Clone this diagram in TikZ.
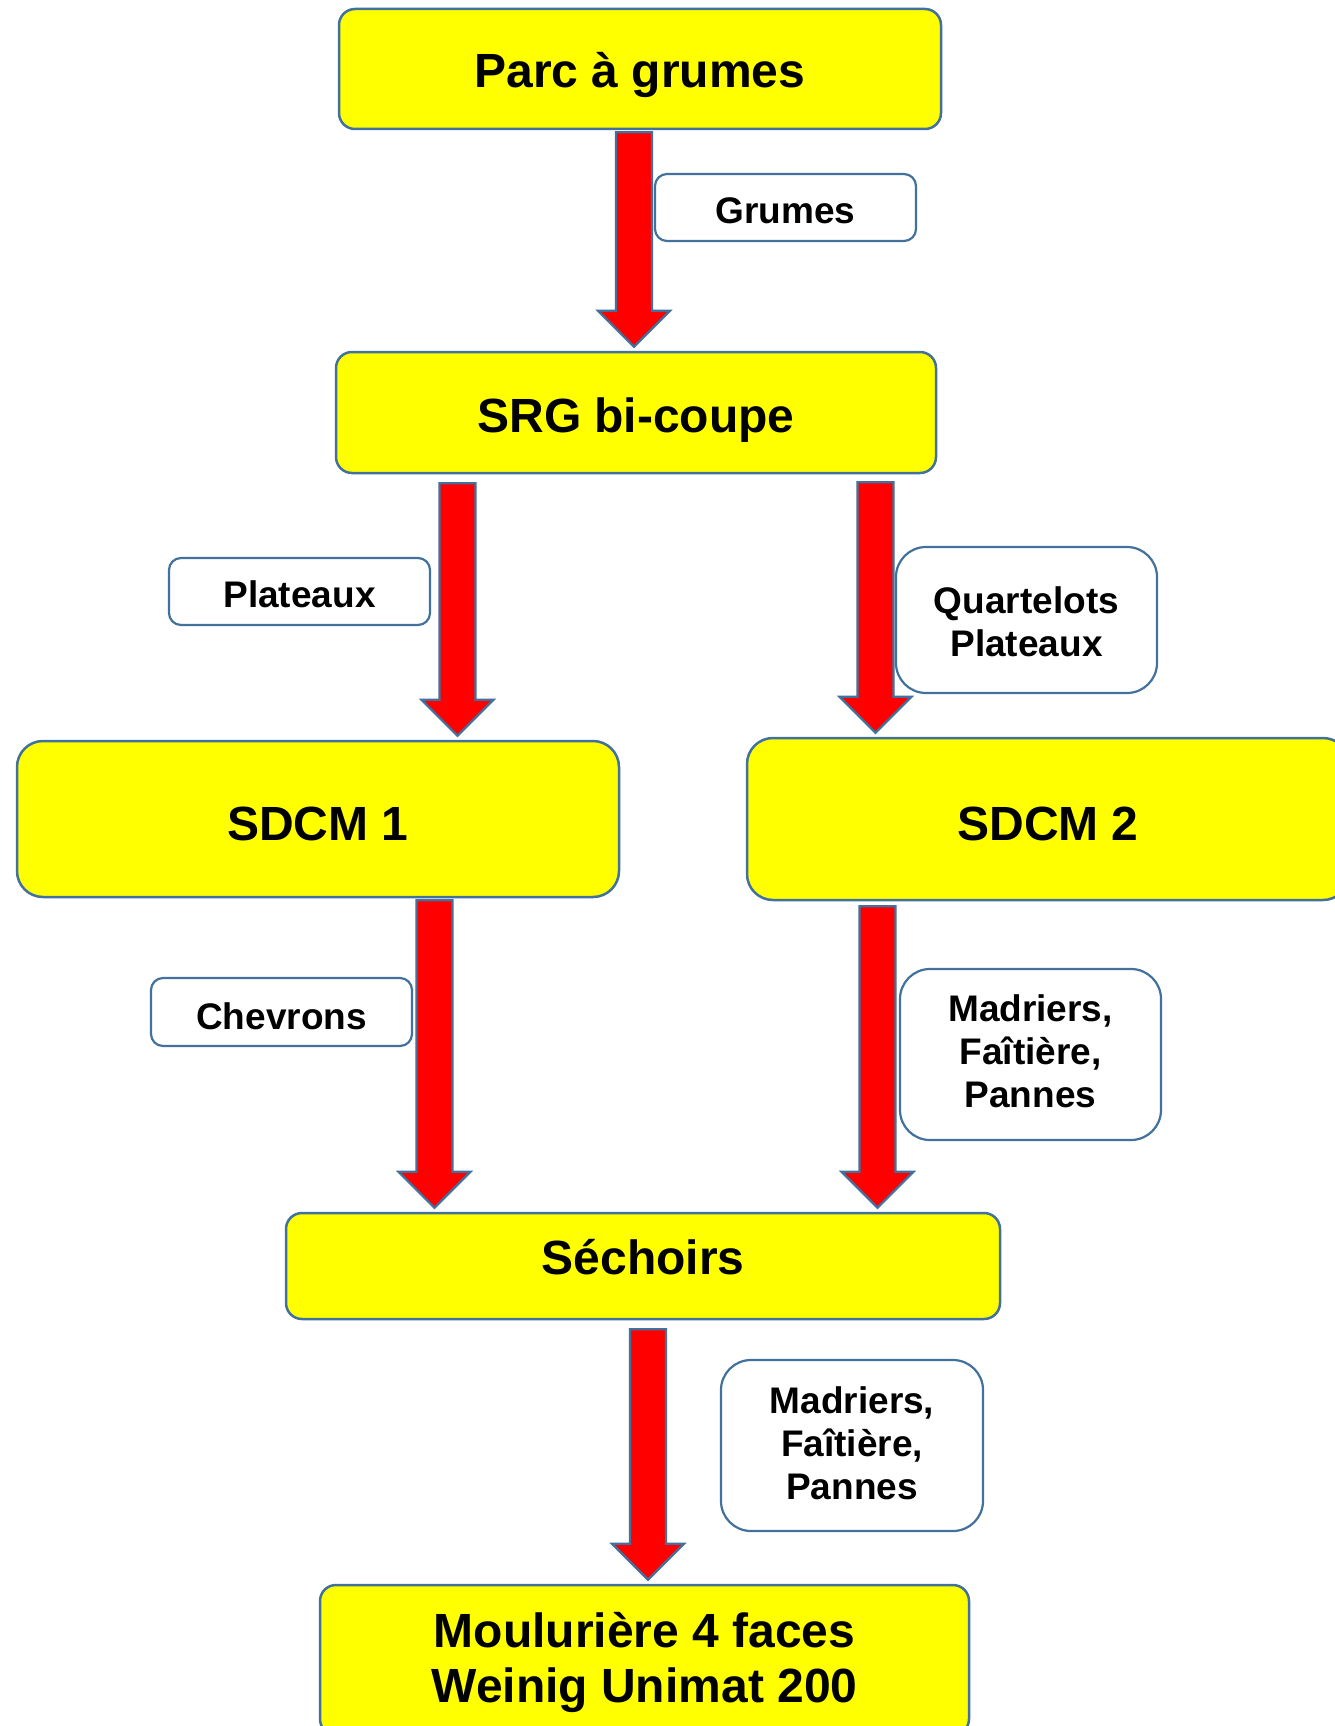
\documentclass[tikz,border=0pt]{standalone}
\usepackage{fontspec}
\setmainfont{Liberation Sans}
\usetikzlibrary{calc}
\definecolor{edgeblue}{RGB}{65,113,156}
\definecolor{boxyellow}{RGB}{255,255,0}
\definecolor{arrowred}{RGB}{255,0,0}
\newcommand\topstrut[1]{\rule{0pt}{#1pt}}
\newcommand\botstrut[1]{\rule[-#1pt]{0pt}{#1pt}}
\tikzset{
  mainbox/.style={draw=edgeblue, line width=2.5pt, fill=boxyellow, rounded corners=16pt,
    align=center, inner sep=0pt, font=\fontsize{48}{55}\selectfont\bfseries},
  labelbox/.style={draw=edgeblue, line width=2.2pt, fill=white, rounded corners=12pt,
    align=center, inner sep=0pt, font=\fontsize{37}{43}\selectfont\bfseries},
  blockarrow/.style={draw=edgeblue, line width=2.2pt, fill=arrowred, line join=miter},
}
\newcommand\flowarrow[4]{%
  \draw[blockarrow] let \p1=(#1.south), \p2=(#2.north) in
    ({#3pt-18pt},{\y1-#4pt}) -- ({#3pt+18pt},{\y1-#4pt}) -- ({#3pt+18pt},{\y2+40pt})
    -- ({#3pt+36pt},{\y2+40pt}) -- (#3pt,{\y2+4pt}) -- ({#3pt-36pt},{\y2+40pt})
    -- ({#3pt-18pt},{\y2+40pt}) -- cycle;}
\begin{document}
\setlength{\lineskiplimit}{-100pt}
\begin{tikzpicture}[x=1pt,y=-1pt]
\useasboundingbox (0,0) rectangle (1335,1726);
\clip (0,0) rectangle (1335,1726);
\fill[white] (0,0) rectangle (1335,1726);

\node[mainbox, minimum width=602pt, minimum height=120pt] (parc) at (640,69)
  {\topstrut{50}Parc à grumes\botstrut{12}};
\node[mainbox, minimum width=600pt, minimum height=121pt] (srg) at (636,412.5)
  {\topstrut{52}SRG bi-coupe\botstrut{12}};
\node[mainbox, minimum width=602pt, minimum height=156pt, rounded corners=26pt] (sdcm1) at (318,819)
  {\topstrut{52}SDCM 1\botstrut{10}};
\node[mainbox, minimum width=602pt, minimum height=162pt, rounded corners=26pt] (sdcm2) at (1048,819)
  {\topstrut{52}SDCM 2\botstrut{10}};
\node[mainbox, minimum width=714pt, minimum height=106pt] (sech) at (643,1266)
  {\topstrut{50}Séchoirs\botstrut{33}};
\node[mainbox, minimum width=649pt, minimum height=150pt] (moul) at (644.5,1660)
  {\topstrut{50}Moulurière 4 faces\\Weinig Unimat 200\botstrut{20}};

\node[labelbox, minimum width=261pt, minimum height=67pt] (lgrumes) at (785.5,207.5)
  {\topstrut{40}Grumes\botstrut{8}};
\node[labelbox, minimum width=261pt, minimum height=67pt] (lplat) at (299.5,591.5)
  {\topstrut{40}Plateaux\botstrut{8}};
\node[labelbox, minimum width=261pt, minimum height=146pt, rounded corners=30pt] (lquart) at (1026.5,620)
  {\topstrut{40}Quartelots\\Plateaux\botstrut{10}};
\node[labelbox, minimum width=261pt, minimum height=68pt] (lchev) at (281.5,1012)
  {\topstrut{40}Chevrons\botstrut{6}};
\node[labelbox, minimum width=261pt, minimum height=171pt, rounded corners=30pt] (lmad1) at (1030.5,1054.5)
  {\topstrut{40}Madriers,\\Faîtière,\\Pannes\botstrut{21}};
\node[labelbox, minimum width=262pt, minimum height=171pt, rounded corners=30pt] (lmad2) at (852,1445.5)
  {\topstrut{40}Madriers,\\Faîtière,\\Pannes\botstrut{19}};

\flowarrow{parc}{srg}{634}{2}
\flowarrow{srg}{sdcm1}{457.5}{9}
\flowarrow{srg}{sdcm2}{875.5}{8}
\flowarrow{sdcm1}{sech}{434.5}{2}
\flowarrow{sdcm2}{sech}{877.5}{5}
\flowarrow{sech}{moul}{648}{9}
\end{tikzpicture}
\end{document}
